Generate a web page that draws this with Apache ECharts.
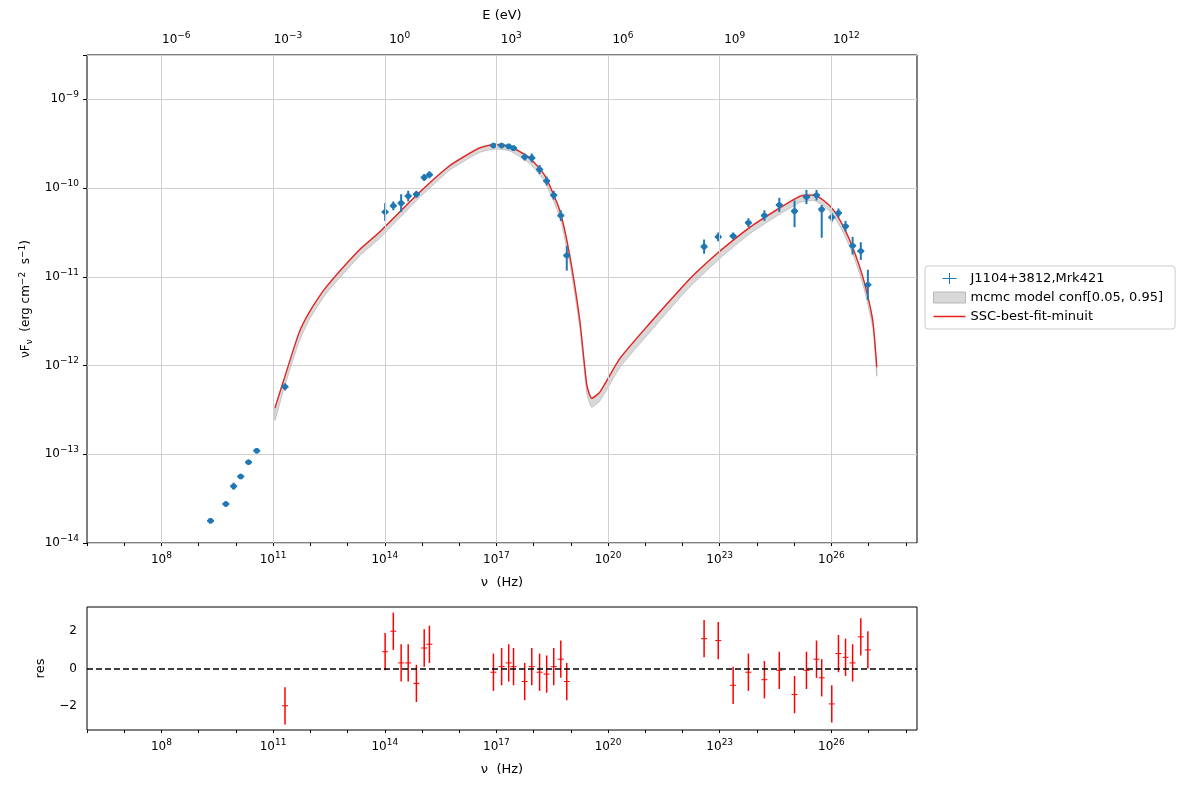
<!DOCTYPE html>
<html><head><meta charset="utf-8">
<script src="https://cdn.jsdelivr.net/npm/echarts@6/dist/echarts.min.js"></script>
<style>html,body{margin:0;padding:0;background:#fff}#c{width:1190px;height:790px}</style>
</head><body><div id="c"></div>
<script>
// observed points (log10 nu [Hz], log10 nuFnu)
const nuLog=[9.32,9.73,9.94,10.13,10.34,10.56,11.32,14.01,14.23,14.44,14.63,14.85,15.06,15.20,16.92,17.14,17.33,17.46,17.76,17.95,18.16,18.35,18.54,18.73,18.89,22.58,22.96,23.36,23.77,24.20,24.60,25.01,25.33,25.60,25.74,26.01,26.19,26.38,26.57,26.79,26.98];
const fLog=[-13.75,-13.56,-13.36,-13.25,-13.09,-12.96,-12.24,-10.27,-10.20,-10.17,-10.09,-10.07,-9.88,-9.85,-9.52,-9.52,-9.53,-9.55,-9.65,-9.66,-9.79,-9.92,-10.08,-10.31,-10.76,-10.66,-10.55,-10.54,-10.39,-10.31,-10.19,-10.26,-10.10,-10.08,-10.24,-10.33,-10.28,-10.43,-10.65,-10.71,-11.09];
const errLo=[0.03,0.03,0.04,0.03,0.03,0.03,0.04,0.10,0.05,0.10,0.06,0.04,0.04,0.04,0.03,0.03,0.03,0.03,0.04,0.05,0.05,0.05,0.05,0.06,0.17,0.08,0.05,0.04,0.05,0.06,0.08,0.18,0.08,0.06,0.32,0.05,0.05,0.06,0.10,0.10,0.17];
const errHi=[0.03,0.03,0.04,0.03,0.03,0.03,0.04,0.10,0.05,0.10,0.06,0.04,0.04,0.04,0.03,0.03,0.03,0.03,0.04,0.05,0.05,0.05,0.05,0.06,0.11,0.08,0.05,0.04,0.05,0.06,0.08,0.12,0.08,0.06,0.05,0.05,0.05,0.06,0.10,0.10,0.17];
// residuals for points 7..41
const resVal=[-2.0,0.9,2.0,0.3,0.3,-0.8,1.1,1.3,-0.2,0.1,0.3,0.1,-0.7,0.1,-0.2,-0.3,0.1,0.5,-0.7,1.6,1.5,-0.9,-0.2,-0.6,-0.1,-1.4,-0.1,0.5,-0.5,-1.9,0.8,0.6,0.3,1.7,1.0];
// model
const modelNu=[11.05,11.29,11.69,11.96,12.42,13.31,13.85,14.93,15.74,16.54,16.95,17.35,17.89,18.30,18.70,18.97,19.24,19.43,19.56,19.78,20.32,21.13,21.94,22.30,23.01,23.82,24.63,25.17,25.52,25.79,26.06,26.33,26.60,26.87,27.11,27.22];
const modelF=[-12.48,-12.16,-11.64,-11.41,-11.12,-10.70,-10.50,-10.05,-9.75,-9.55,-9.51,-9.53,-9.66,-9.86,-10.25,-10.76,-11.49,-12.22,-12.37,-12.30,-11.92,-11.52,-11.14,-10.98,-10.71,-10.44,-10.22,-10.09,-10.08,-10.14,-10.25,-10.44,-10.70,-11.04,-11.49,-12.02];
const bandHi=[-12.47,-12.15,-11.63,-11.40,-11.11,-10.69,-10.49,-10.04,-9.74,-9.54,-9.50,-9.52,-9.65,-9.85,-10.24,-10.75,-11.48,-12.21,-12.36,-12.29,-11.91,-11.51,-11.13,-10.97,-10.70,-10.43,-10.21,-10.08,-10.07,-10.13,-10.24,-10.43,-10.69,-11.03,-11.48,-12.01];
const bandLo=[-12.62,-12.26,-11.74,-11.49,-11.19,-10.77,-10.57,-10.11,-9.80,-9.60,-9.56,-9.58,-9.72,-9.93,-10.32,-10.84,-11.57,-12.32,-12.47,-12.40,-12.02,-11.62,-11.23,-11.07,-10.79,-10.51,-10.29,-10.16,-10.14,-10.20,-10.31,-10.51,-10.77,-11.12,-11.57,-12.12];
const xGridTicks=[8,11,14,17,20,23,26];

const F='DejaVu Sans';
const sup={s:{fontSize:9,fontFamily:F,color:'#000',padding:[0,0,9,0]},n:{fontSize:12,fontFamily:F,color:'#000'}};
function pow10(v){return '{n|10}{s|'+String(v).replace('-','−')+'}';}
function xFmt(v){const r=Math.round(v);if(Math.abs(v-r)>1e-6)return '';return ((r-8)%3===0)?pow10(r):'';}
const chart=echarts.init(document.getElementById('c'));
const errData=nuLog.map((x,i)=>[x,fLog[i],errLo[i],errHi[i]]);
const resData=nuLog.slice(6).map((x,i)=>[x,resVal[i]]);
const bandPoly=modelNu.map((x,i)=>[x,bandHi[i]]).concat(modelNu.map((x,i)=>[x,bandLo[i]]).reverse());
const noLine={show:false,onZero:false};
chart.setOption({
  animation:false,
  textStyle:{fontFamily:F},
  grid:[{left:87,top:55,width:830,height:488,show:true,borderColor:'#000',borderWidth:1,backgroundColor:'transparent'},
        {left:87,top:607,width:830,height:123,show:true,borderColor:'#000',borderWidth:1}],
  legend:{orient:'vertical',left:925,top:266,padding:[6,12,6,8],itemGap:6,borderColor:'#ccc',borderWidth:1,borderRadius:3,
    itemWidth:32,itemHeight:11,textStyle:{fontSize:13,fontFamily:F,color:'#000'},
    data:[{name:'J1104+3812,Mrk421',icon:'path://M13,0 L15,0 L15,10 L28,10 L28,12 L15,12 L15,22 L13,22 L13,12 L0,12 L0,10 L13,10 Z',itemStyle:{color:'#1f77b4'}},
          {name:'mcmc model conf[0.05, 0.95]',icon:'rect',itemStyle:{color:'#d8d8d8',borderColor:'#b8b8b8',borderWidth:1}},
          {name:'SSC-best-fit-minuit',icon:'path://M0,0 L28,0 L28,1.2 L0,1.2 Z',itemStyle:{color:'#e8201c'}}]},
  xAxis:[
    {type:'value',gridIndex:0,min:6,max:28.3,interval:1,name:'ν  (Hz)',nameLocation:'middle',nameGap:33,nameTextStyle:{fontSize:13,color:'#000'},
     axisLine:noLine,axisTick:{show:true,length:3,lineStyle:{color:'#000'}},splitLine:{show:false},
     axisLabel:{formatter:xFmt,rich:sup,margin:8,showMaxLabel:false}},
    {type:'value',gridIndex:0,position:'top',min:-8.4,max:13.9,interval:0.3,name:'E (eV)',nameLocation:'middle',nameGap:33,nameTextStyle:{fontSize:13,color:'#000'},
     axisLine:noLine,axisTick:{show:false},splitLine:{show:false},
     axisLabel:{rich:sup,margin:6,formatter:function(v){const r=Math.round(v);if(Math.abs(v-r)>1e-6)return '';return (r%3===0)?pow10(r):'';}}},
    {type:'value',gridIndex:1,min:6,max:28.3,interval:1,name:'ν  (Hz)',nameLocation:'middle',nameGap:33,nameTextStyle:{fontSize:13,color:'#000'},
     axisLine:noLine,axisTick:{show:true,length:3,lineStyle:{color:'#000'}},splitLine:{show:false},
     axisLabel:{formatter:xFmt,rich:sup,margin:8,showMaxLabel:false}}
  ],
  yAxis:[
    {type:'value',gridIndex:0,min:-14,max:-8.5,interval:1,name:'{n|νF}{b|ν}{n|  (erg cm}{s|−2}{n|  s}{s|−1}{n|)}',nameLocation:'middle',nameGap:52,
     nameTextStyle:{rich:{n:{fontSize:12,fontFamily:F,color:'#000'},b:{fontSize:9,fontFamily:F,color:'#000',padding:[6,0,0,0]},s:{fontSize:9,fontFamily:F,color:'#000',padding:[0,0,8,0]}}},
     axisLine:noLine,axisTick:{show:true,length:4,lineStyle:{color:'#000'}},splitLine:{show:true,lineStyle:{color:'#d0d0d0'}},
     axisLabel:{rich:sup,margin:8,formatter:function(v){const r=Math.round(v);return Math.abs(v-r)<1e-6?pow10(r):'';}}},
    {type:'value',gridIndex:1,min:-3.3,max:3.3,interval:0.1,name:'res',nameLocation:'middle',nameGap:40,nameTextStyle:{fontSize:13,color:'#000'},
     axisLine:noLine,axisTick:{show:false},splitLine:{show:false},
     axisLabel:{fontSize:12,color:'#000',margin:10,formatter:function(v){const r=Math.round(v);if(Math.abs(v-r)>1e-6||r%2!==0)return '';return String(r).replace('-','−');}}}
  ],
  series:[
    {type:'line',xAxisIndex:0,yAxisIndex:0,data:[],silent:true,
     markLine:{silent:true,symbol:'none',label:{show:false},lineStyle:{color:'#d0d0d0',width:1,type:'solid'},data:xGridTicks.map(v=>({xAxis:v}))}},
    {name:'mcmc model conf[0.05, 0.95]',type:'custom',xAxisIndex:0,yAxisIndex:0,data:[0],z:2,
     itemStyle:{color:'#d8d8d8'},
     renderItem:function(p,api){return {type:'polygon',shape:{points:bandPoly.map(d=>api.coord(d)),smooth:0.15},style:{fill:'rgba(190,190,190,0.6)',stroke:'rgba(170,170,170,0.6)',lineWidth:1}};}},
    {name:'SSC-best-fit-minuit',type:'line',xAxisIndex:0,yAxisIndex:0,data:modelNu.map((x,i)=>[x,modelF[i]]),smooth:0.2,
     symbol:'none',z:3,lineStyle:{color:'#e8201c',width:1.3},itemStyle:{color:'#e8201c'}},
    {name:'J1104+3812,Mrk421',type:'custom',xAxisIndex:0,yAxisIndex:0,data:errData,z:4,itemStyle:{color:'#1f77b4'},
     renderItem:function(p,api){
       const x=api.value(0),y=api.value(1),lo=api.value(2),hi=api.value(3);
       const c=api.coord([x,y]),a=api.coord([x,y-lo]),b=api.coord([x,y+hi]);
       return {type:'group',children:[
         {type:'line',shape:{x1:a[0],y1:a[1],x2:b[0],y2:b[1]},style:{stroke:'#1f77b4',lineWidth:2}},
         {type:'line',shape:{x1:c[0]-3.5,y1:c[1],x2:c[0]+3.5,y2:c[1]},style:{stroke:'#1f77b4',lineWidth:2}},
         {type:'circle',shape:{cx:c[0],cy:c[1],r:2.8},style:{fill:'#1f77b4'}}]};}},
    {type:'custom',xAxisIndex:2,yAxisIndex:1,data:resData,z:4,
     renderItem:function(p,api){
       const x=api.value(0),y=api.value(1);
       const c=api.coord([x,y]),a=api.coord([x,y-1]),b=api.coord([x,y+1]);
       return {type:'group',children:[
         {type:'line',shape:{x1:a[0],y1:a[1],x2:b[0],y2:b[1]},style:{stroke:'#ff0000',lineWidth:1.5}},
         {type:'line',shape:{x1:c[0]-3,y1:c[1],x2:c[0]+3,y2:c[1]},style:{stroke:'#ff0000',lineWidth:1}}]};},
     markLine:{silent:true,symbol:'none',label:{show:false},lineStyle:{color:'#000',width:1.5,type:[6,3]},data:[{yAxis:0}]}}
  ]
});
</script></body></html>
